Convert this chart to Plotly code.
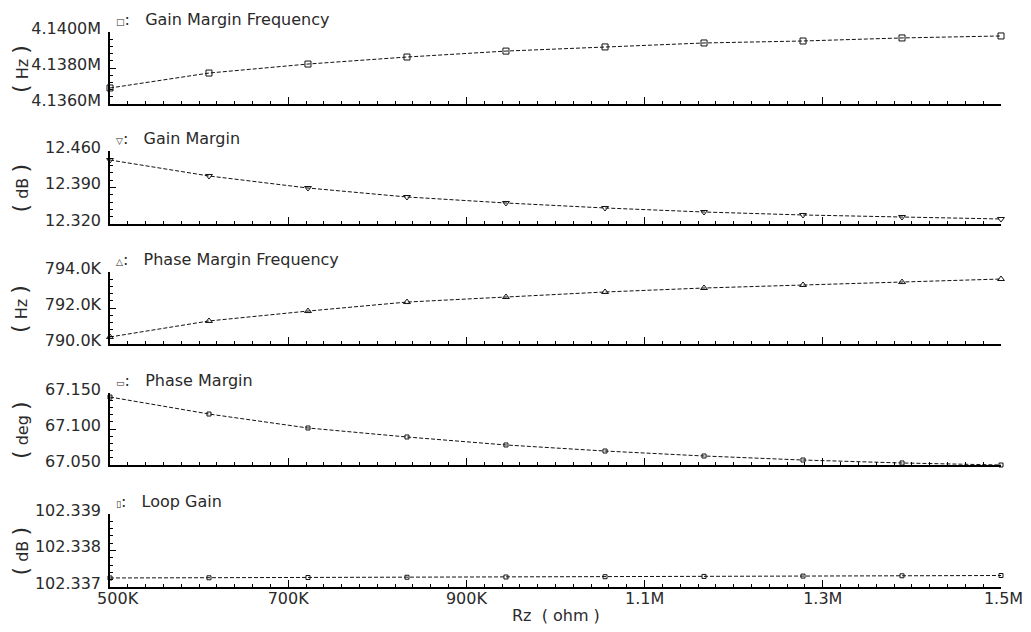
import plotly.graph_objects as go

# Sweep of the zero resistor Rz (ohm)
rz = [500e3, 611.1e3, 722.2e3, 833.3e3, 944.4e3, 1055.6e3, 1166.7e3, 1277.8e3, 1388.9e3, 1500e3]

# Measured stability figures at each Rz point
gm_freq = [4.13689e6, 4.13772e6, 4.13822e6, 4.13861e6, 4.13894e6,
           4.13917e6, 4.13939e6, 4.13950e6, 4.13967e6, 4.13978e6]
gain_margin = [12.4427, 12.4121, 12.3890, 12.3718, 12.3603,
               12.3507, 12.3430, 12.3373, 12.3334, 12.3296]
pm_freq = [790.39e3, 791.28e3, 791.83e3, 792.33e3, 792.61e3,
           792.89e3, 793.11e3, 793.28e3, 793.44e3, 793.61e3]
phase_margin = [67.1444, 67.1208, 67.1014, 67.0889, 67.0778,
                67.0694, 67.0625, 67.0569, 67.0528, 67.0500]
loop_gain = [102.337247, 102.337252, 102.337260, 102.337268, 102.337274,
             102.337282, 102.337290, 102.337299, 102.337307, 102.337315]

# Axis ticks (the first label is nudged right so it clears the y labels)
x_tickvals = [500e3, 700e3, 900e3, 1.1e6, 1.3e6, 1.5e6]
x_ticktext = ["\u00a0\u00a0\u00a0500K", "700K", "900K", "1.1M", "1.3M", "\u00a01.5M"]

gm_freq_ticks = [4.136e6, 4.138e6, 4.140e6]
gm_freq_text = ["4.1360M", "4.1380M", "4.1400M"]
gain_margin_ticks = [12.32, 12.39, 12.46]
gain_margin_text = ["12.320", "12.390", "12.460"]
pm_freq_ticks = [790e3, 792e3, 794e3]
pm_freq_text = ["790.0K", "792.0K", "794.0K"]
phase_margin_ticks = [67.05, 67.10, 67.15]
phase_margin_text = ["67.050", "67.100", "67.150"]
loop_gain_ticks = [102.337, 102.338, 102.339]
loop_gain_text = ["102.337", "102.338", "102.339"]

titles = ["Gain Margin Frequency", "Gain Margin", "Phase Margin Frequency",
          "Phase Margin", "Loop Gain"]
units = ["Hz", "dB", "Hz", "deg", "dB"]

W, H = 1031, 632
FONT = "DejaVu Sans"
INK = "#2a2a2a"

panels = [
    (gm_freq, gm_freq_ticks, gm_freq_text, "square-open", 6, "\u25a1"),
    (gain_margin, gain_margin_ticks, gain_margin_text, "triangle-down-open", 6, "\u25bd"),
    (pm_freq, pm_freq_ticks, pm_freq_text, "triangle-up-open", 6, "\u25b3"),
    (phase_margin, phase_margin_ticks, phase_margin_text, "square-open", 4, "\u25ad"),
    (loop_gain, loop_gain_ticks, loop_gain_text, "square-open", 4, "\u25af"),
]

# pixel rows (top, bottom) of each plotting strip
rows_px = [(32, 104), (151, 224), (272, 344), (393, 465), (514, 587)]
x_left, x_right = 110, 1001

fig = go.Figure()
layout = dict(
    template="none",
    width=W, height=H,
    margin=dict(l=0, r=0, t=0, b=0, pad=0, autoexpand=False),
    paper_bgcolor="white", plot_bgcolor="white",
    showlegend=False,
    font=dict(family=FONT, size=16, color=INK),
)
annotations = []

for i, (vals, tv, tt, sym, msize, glyph) in enumerate(panels):
    n = "" if i == 0 else str(i + 1)
    top, bot = rows_px[i]
    fig.add_trace(go.Scatter(
        x=rz, y=vals, mode="lines+markers",
        xaxis="x" + n, yaxis="y" + n,
        line=dict(color="#111111", width=1, dash="4px,2px"),
        marker=dict(symbol=sym, size=msize, color="#111111",
                    line=dict(color="#111111", width=1)),
        cliponaxis=False,
    ))
    step = tv[1] - tv[0]
    layout["xaxis" + n] = dict(
        domain=[x_left / W, x_right / W],
        anchor="y" + n,
        range=[500e3, 1500e3],
        automargin=False,
        showline=True, linecolor="black", linewidth=1.5,
        showgrid=False, zeroline=False,
        ticks="inside", ticklen=7, tickwidth=1, tickcolor="black",
        tickmode="array", tickvals=x_tickvals, ticktext=x_ticktext,
        showticklabels=(i == 4),
        tickfont=dict(family=FONT, size=16, color=INK),
        ticklabelstandoff=-4,
        minor=dict(ticks="inside", ticklen=3, tickwidth=1, tickcolor="black",
                   tickmode="linear", tick0=500e3, dtick=20e3, showgrid=False),
        fixedrange=True,
    )
    if i > 0:
        layout["xaxis" + n]["matches"] = "x"
    layout["yaxis" + n] = dict(
        domain=[1 - bot / H, 1 - top / H],
        anchor="x" + n,
        range=[tv[0], tv[-1]],
        automargin=False,
        showline=True, linecolor="black", linewidth=1.5,
        showgrid=False, zeroline=False,
        ticks="inside", ticklen=6, tickwidth=1, tickcolor="black",
        tickmode="array", tickvals=tv, ticktext=tt,
        tickfont=dict(family=FONT, size=16, color=INK),
        ticklabelshift=-4, ticklabelstandoff=4,
        minor=dict(ticks="inside", ticklen=3, tickwidth=1, tickcolor="black",
                   tickmode="linear", tick0=tv[0], dtick=step / 5, showgrid=False),
        fixedrange=True,
    )
    # strip caption with the marker glyph
    annotations.append(dict(
        xref="paper", yref="paper",
        x=114 / W, y=1 - (top - 13) / H,
        xanchor="left", yanchor="middle",
        text="<span style='font-size:9px'>" + glyph + "</span>:\u00a0\u00a0\u00a0" + titles[i],
        showarrow=False, font=dict(family=FONT, size=16, color=INK),
    ))
    # vertical unit label
    annotations.append(dict(
        xref="paper", yref="paper",
        x=20 / W, y=1 - ((top + bot) / 2 + 1) / H,
        xanchor="center", yanchor="middle",
        text="<span style='font-size:22px'>(</span> " + units[i]
             + " <span style='font-size:22px'>)</span>",
        textangle=-90, showarrow=False,
        font=dict(family=FONT, size=16, color=INK),
    ))

annotations.append(dict(
    xref="paper", yref="paper",
    x=((x_left + x_right) / 2) / W, y=1 - 615 / H,
    xanchor="center", yanchor="middle",
    text="Rz  ( ohm )", showarrow=False,
    font=dict(family=FONT, size=16, color=INK),
))
layout["annotations"] = annotations

fig.update_layout(**layout)
fig.write_html("out.html")
